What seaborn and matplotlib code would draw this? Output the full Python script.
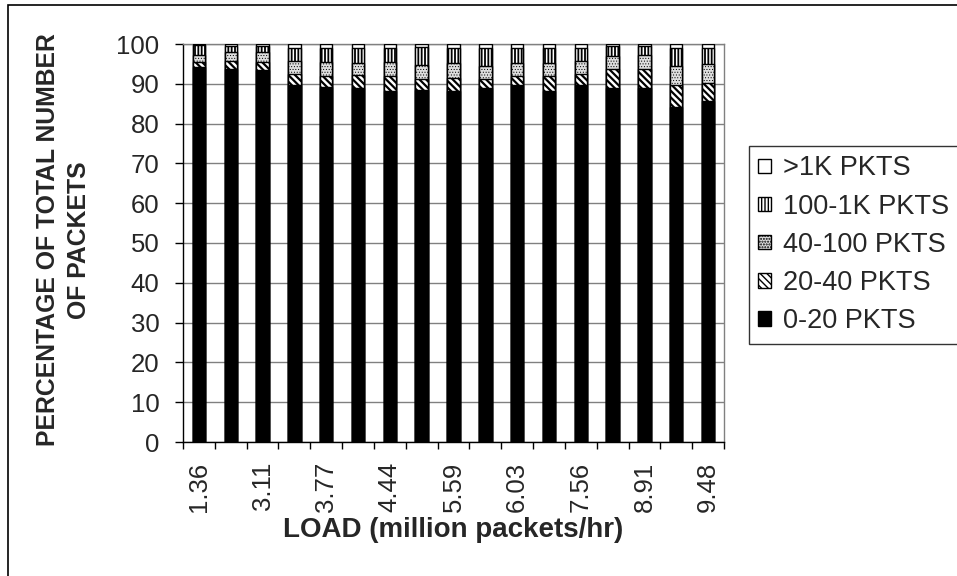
import matplotlib
matplotlib.use("Agg")
import matplotlib.pyplot as plt
from matplotlib.patches import Patch, Rectangle
import numpy as np
import pandas as pd
import seaborn as sns

# Load values (million packets/hr); only every other bar carries a label
load_labels = ["1.36", "3.11", "3.77", "4.44", "5.59", "6.03", "7.56", "8.91", "9.48"]
bar_index = list(range(17))

# Percentage of packets per flow-size class, one entry per bar
pkts_0_20 = [94.2, 93.8, 93.4, 89.8, 89.3, 89.0, 88.3, 88.5, 88.3,
             89.0, 89.6, 88.3, 89.8, 89.0, 89.0, 84.1, 85.6]
pkts_20_40 = [1.3, 2.0, 2.0, 2.7, 2.7, 3.1, 3.6, 2.7, 3.2,
              2.2, 2.4, 3.6, 2.7, 4.6, 4.6, 5.7, 4.7]
pkts_40_100 = [1.7, 2.3, 2.6, 3.2, 3.4, 3.2, 3.7, 3.6, 3.8,
               3.2, 3.3, 3.4, 3.3, 3.3, 3.6, 4.6, 4.6]
pkts_100_1k = [2.5, 1.4, 1.5, 3.2, 3.5, 3.6, 3.3, 4.4, 3.6,
               4.5, 3.6, 3.6, 3.1, 2.6, 2.3, 4.5, 4.0]
pkts_over_1k = [0.3, 0.5, 0.5, 1.1, 1.1, 1.1, 1.1, 0.8, 1.1,
                1.1, 1.1, 1.1, 1.1, 0.5, 0.5, 1.1, 1.1]

series_names = ["0-20 PKTS", "20-40 PKTS", "40-100 PKTS", "100-1K PKTS", ">1K PKTS"]
series_values = [pkts_0_20, pkts_20_40, pkts_40_100, pkts_100_1k, pkts_over_1k]
series_face = ["black", "white", "#dedede", "white", "white"]
series_hatch = [None, "\\\\\\\\\\", "......", "|||||", None]
series_hatch_lw = [1.0, 1.6, 0.4, 1.3, 1.0]

sns.set_theme(style="white")
plt.rcParams["font.family"] = ["Liberation Sans", "DejaVu Sans"]
plt.rcParams["hatch.color"] = "black"

W, H = 957, 576
fig = plt.figure(figsize=(W / 100, H / 100), dpi=100)
ax = fig.add_axes([183 / W, 1 - 442 / H, (724 - 183) / W, (442 - 44) / H])

df = pd.DataFrame({name: vals for name, vals in zip(series_names, series_values)})
df["bar"] = bar_index
cum = df[series_names].cumsum(axis=1)

# Draw stacked segments from the tallest cumulative total downwards
for name, face, hatch, hlw in reversed(list(zip(series_names, series_face,
                                                 series_hatch, series_hatch_lw))):
    with plt.rc_context({"hatch.linewidth": hlw}):
        sns.barplot(x=df["bar"], y=cum[name], color=face, saturation=1, width=0.39,
                    edgecolor="black", linewidth=1.0, hatch=hatch, errorbar=None,
                    ax=ax, zorder=3)

ax.set_xlim(-0.5, 16.5)
ax.set_ylim(0, 100)
ax.set_yticks(np.arange(0, 101, 10))
ax.yaxis.grid(True, color="#808080", linewidth=1.0, zorder=0)
ax.xaxis.grid(False)

ax.set_xticks(bar_index[::2])
ax.set_xticklabels(load_labels, rotation=90, fontsize=18.5)
ax.set_xticks(np.arange(-0.5, 17, 1), minor=True)
ax.tick_params(axis="x", which="major", length=0, pad=14)
ax.tick_params(axis="x", which="minor", length=5, width=1, color="black",
               direction="out", bottom=True)
ax.tick_params(axis="y", which="major", length=6, width=1, color="black",
               direction="out", left=True, labelsize=18.5, pad=11)
ax.set_xlabel("")
ax.set_ylabel("")

for side in ["left", "bottom"]:
    ax.spines[side].set_color("black")
    ax.spines[side].set_linewidth(1.0)
for side in ["right", "top"]:
    ax.spines[side].set_color("#808080")
    ax.spines[side].set_linewidth(1.0)

fig.text(453.5 / W, 1 - 530 / H, "LOAD (million packets/hr)", ha="center",
         va="center", fontsize=20, fontweight="bold")
fig.text(63.5 / W, 1 - 240 / H, "PERCENTAGE OF TOTAL NUMBER\nOF PACKETS",
         rotation=90, ha="center", va="center", fontsize=17.8,
         fontweight="bold", multialignment="center", linespacing=1.4)

handles = []
for n, f, h, hlw in zip(series_names, series_face, series_hatch, series_hatch_lw):
    with plt.rc_context({"hatch.linewidth": hlw}):
        handles.append(Patch(facecolor=f, edgecolor="black", hatch=h,
                             linewidth=1.0, label=n))
leg = fig.legend(handles=handles[::-1], loc="upper left",
                 bbox_to_anchor=(749 / W, 1 - 146 / H), fontsize=19.5,
                 frameon=True, fancybox=False, shadow=False, borderaxespad=0,
                 handlelength=0.45, handleheight=0.45, handletextpad=0.45,
                 labelspacing=0.45, borderpad=0.35)
leg.get_frame().set_edgecolor("black")
leg.get_frame().set_linewidth(1.0)

# Chart-area border
fig.add_artist(Rectangle((8 / W, -0.1), 1.2, 1 - 5 / H + 0.1,
                         transform=fig.transFigure, fill=False,
                         edgecolor="black", linewidth=1.2))

fig.savefig("out.png", dpi=100)
